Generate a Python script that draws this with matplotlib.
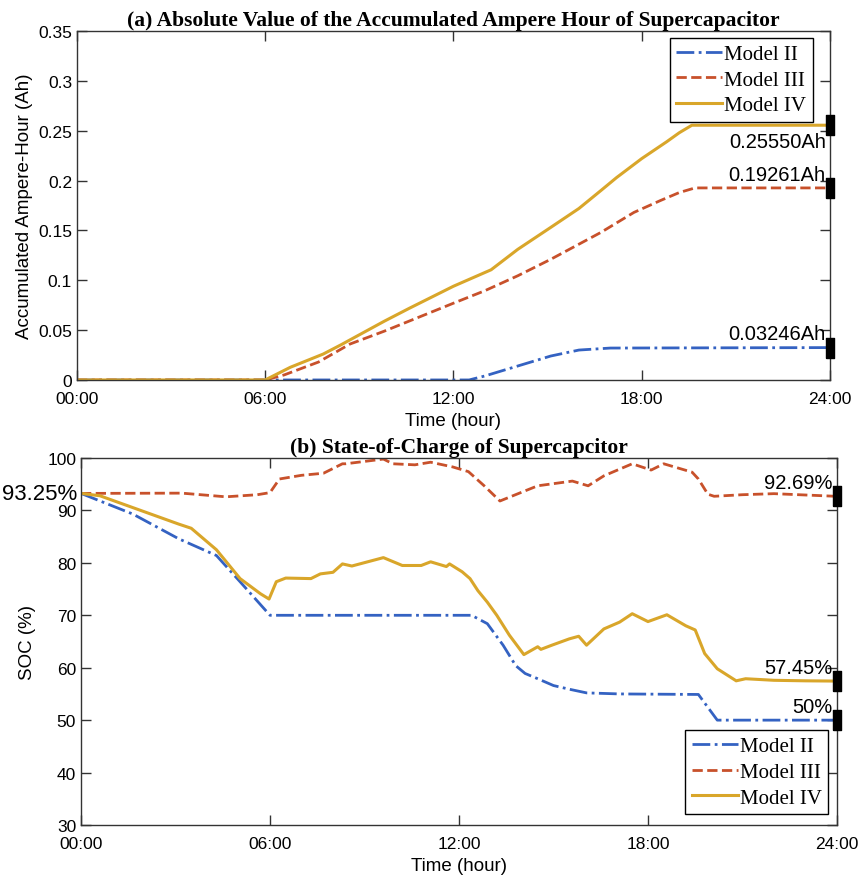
import matplotlib
matplotlib.use("Agg")
from matplotlib import pyplot as plt

# ---- data (hours, value) ----
tick_hours = [0, 6, 12, 18, 24]
tick_labels = ["00:00", "06:00", "12:00", "18:00", "24:00"]

# (a) accumulated ampere-hour
ah2_t = [0, 12.5, 13, 14.05, 15.1, 16, 17, 24]
ah2_v = [0, 0, 0.004, 0.014, 0.024, 0.030, 0.032, 0.03246]

ah3_t = [0, 6, 6.6, 7.7, 8.7, 9.8, 10.9, 12, 13, 14.05, 15.1, 16.7, 17.75, 18.6, 19.2, 19.7, 24]
ah3_v = [0, 0, 0.005, 0.018, 0.036, 0.049, 0.063, 0.077, 0.0895, 0.1045, 0.121, 0.148,
         0.168, 0.18, 0.188, 0.19261, 0.19261]

ah4_t = [0, 6, 6.8, 7.85, 8.4, 9.8, 10.6, 12, 13.2, 14.05, 15.1, 16.0, 16.7, 17.2, 18,
         18.8, 19.2, 19.6, 24]
ah4_v = [0, 0, 0.0127, 0.026, 0.035, 0.059, 0.072, 0.094, 0.1105, 0.131, 0.153, 0.172,
         0.19, 0.203, 0.222, 0.239, 0.248, 0.2555, 0.2555]

ah_labels = ["0.03246Ah", "0.19261Ah", "0.25550Ah"]

# (b) state of charge
soc2_t = [0, 1.65, 3.1, 4.3, 5.05, 6, 12.4, 12.9, 13.4, 13.8, 14.1, 14.5, 15, 15.5,
          16.05, 17.1, 19.6, 20.2, 24]
soc2_v = [93.25, 89.3, 84.6, 81.4, 76.4, 70, 70, 68.4, 64.3, 60.4, 58.9, 57.9, 56.6,
          55.9, 55.2, 55, 54.9, 50, 50]

soc3_t = [0, 3.2, 4.6, 5.6, 6.0, 6.3, 7.0, 7.7, 8.3, 8.4, 9.6, 9.9, 10.6, 11.1, 11.8,
          12.3, 12.8, 13.3, 14.0, 14.5, 15.6, 16.1, 16.6, 17.5, 18.1, 18.5, 19.4, 19.6,
          19.9, 20.1, 21, 22, 24]
soc3_v = [93.25, 93.3, 92.6, 93, 93.4, 96, 96.7, 97.1, 98.9, 98.9, 99.8, 98.9, 98.7,
          99.2, 98.3, 97.4, 94.7, 91.8, 93.5, 94.7, 95.6, 94.7, 96.6, 98.9, 97.7, 98.9,
          97.3, 96, 93.1, 92.7, 93, 93.2, 92.69]

soc4_t = [0, 0.6, 3.1, 3.5, 4.3, 5.05, 5.7, 5.97, 6.2, 6.5, 7.3, 7.6, 8.0, 8.3, 8.6,
          9.1, 9.6, 10.2, 10.8, 11.1, 11.6, 11.7, 12.1, 12.35, 12.6, 12.9, 13.2, 13.6,
          14.06, 14.5, 14.6, 14.95, 15.5, 15.8, 16.05, 16.6, 17.1, 17.5, 18.0, 18.6,
          19.2, 19.5, 19.8, 20.2, 20.8, 21.1, 22, 23, 24]
soc4_v = [93.25, 92.8, 87.4, 86.6, 82.5, 77, 74.1, 73.1, 76.4, 77.1, 77, 77.9, 78.2,
          79.8, 79.4, 80.2, 81.0, 79.5, 79.5, 80.2, 79.3, 79.8, 78.3, 77, 74.7, 72.5,
          70, 66.2, 62.5, 64, 63.5, 64.3, 65.5, 66, 64.3, 67.4, 68.7, 70.3, 68.8, 70.1,
          68, 67.2, 62.7, 59.8, 57.5, 57.9, 57.6, 57.5, 57.45]

soc_labels = ["50%", "92.69%", "57.45%"]
model_names = ["Model II", "Model III", "Model IV"]

blue = "#3462c2"
red = "#c8512b"
gold = "#d9a62a"

serif = "Liberation Serif"
sans = "Liberation Sans"

# rectangle marker for the end values
bar_marker = [(-0.45, -1), (0.45, -1), (0.45, 1), (-0.45, 1), (-0.45, -1)]

fig = plt.figure(figsize=(8.58, 8.79), dpi=100)
ax1 = fig.add_axes([0.0897, 0.5666, 0.8776, 0.397])
ax2 = fig.add_axes([0.0944, 0.0603, 0.8811, 0.4175])


def style_axes(ax):
    ax.set_xlim(0, 24)
    ax.set_xticks(tick_hours)
    ax.set_xticklabels(tick_labels)
    ax.tick_params(direction="in", top=True, right=True, length=7, width=1,
                   labelsize=12.5, color="#333333")
    ax.tick_params(axis="x", pad=8)
    for lab in ax.get_xticklabels() + ax.get_yticklabels():
        lab.set_family(sans)
    for sp in ax.spines.values():
        sp.set_color("#333333")
        sp.set_linewidth(1)
    ax.set_xlabel("Time (hour)", family=sans, fontsize=13.5, labelpad=4)


def style_legend(leg):
    leg.get_frame().set_linewidth(1)


leg_kw = dict(prop={"family": serif, "size": 15}, handlelength=2.2, fancybox=False,
              framealpha=1, edgecolor="black", borderpad=0.3, labelspacing=0.3,
              handletextpad=0.1, borderaxespad=0)

# ---- (a) ----
ax1.plot(ah2_t, ah2_v, "-.", color=blue, lw=2, label=model_names[0])
ax1.plot(ah3_t, ah3_v, "--", color=red, lw=2, label=model_names[1])
ax1.plot(ah4_t, ah4_v, "-", color=gold, lw=2.2, label=model_names[2])
ax1.set_ylim(0, 0.35)
ax1.set_yticks([0, 0.05, 0.1, 0.15, 0.2, 0.25, 0.3, 0.35])
ax1.set_yticklabels(["0", "0.05", "0.1", "0.15", "0.2", "0.25", "0.3", "0.35"])
style_axes(ax1)
ax1.set_ylabel("Accumulated Ampere-Hour (Ah)", family=sans, fontsize=13.5, labelpad=4)
ax1.set_title("(a) Absolute Value of the Accumulated Ampere Hour of Supercapacitor",
              family=serif, fontweight="bold", fontsize=15.5, pad=4)

ends_a = [ah2_v[-1], ah3_v[-1], ah4_v[-1]]
offs_a = [10, 10, -12]
for val, txt, off in zip(ends_a, ah_labels, offs_a):
    ax1.plot([24], [val], marker=bar_marker, markersize=14, color="black",
             clip_on=False, zorder=5)
    ax1.annotate(txt, (24, val), xytext=(-3, off), textcoords="offset points",
                 ha="right", va="center", family=sans, fontsize=14.5)

leg1 = ax1.legend(loc="upper right", bbox_to_anchor=(0.977, 0.98), **leg_kw)
style_legend(leg1)

# ---- (b) ----
ax2.plot(soc2_t, soc2_v, "-.", color=blue, lw=2, label=model_names[0])
ax2.plot(soc3_t, soc3_v, "--", color=red, lw=2, label=model_names[1])
ax2.plot(soc4_t, soc4_v, "-", color=gold, lw=2.2, label=model_names[2])
ax2.set_ylim(30, 100)
ax2.set_yticks([30, 40, 50, 60, 70, 80, 90, 100])
style_axes(ax2)
ax2.set_ylabel("SOC (%)", family=sans, fontsize=13.5, labelpad=8)
ax2.set_title("(b) State-of-Charge of Supercapcitor",
              family=serif, fontweight="bold", fontsize=15.5, pad=4)

ends_b = [soc2_v[-1], soc3_v[-1], soc4_v[-1]]
for val, txt in zip(ends_b, soc_labels):
    ax2.plot([24], [val], marker=bar_marker, markersize=14, color="black",
             clip_on=False, zorder=5)
    ax2.annotate(txt, (24, val), xytext=(-3, 10), textcoords="offset points",
                 ha="right", va="center", family=sans, fontsize=14.5)

ax2.annotate("93.25%", (0, soc2_v[0]), xytext=(-3, 0), textcoords="offset points",
             ha="right", va="center", family=sans, fontsize=16, annotation_clip=False)

leg2 = ax2.legend(loc="lower right", bbox_to_anchor=(0.988, 0.03), **leg_kw)
style_legend(leg2)

fig.savefig("out.png", dpi=100)
